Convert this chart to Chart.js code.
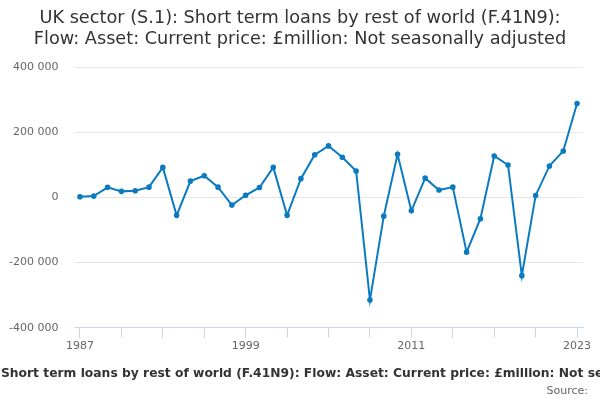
<!DOCTYPE html>
<html>
<head>
<meta charset="utf-8">
<script src="https://cdn.jsdelivr.net/npm/chart.js@4/dist/chart.umd.min.js"></script>
<style>
  html, body { margin: 0; padding: 0; background: #fff; }
  #wrap { width: 600px; height: 400px; }
</style>
</head>
<body>
<div id="wrap"><canvas id="chart"></canvas></div>
<script>
var anos = [1987, 1988, 1989, 1990, 1991, 1992, 1993, 1994, 1995, 1996, 1997, 1998,
            1999, 2000, 2001, 2002, 2003, 2004, 2005, 2006, 2007, 2008, 2009, 2010,
            2011, 2012, 2013, 2014, 2015, 2016, 2017, 2018, 2019, 2020, 2021, 2022, 2023];
var valores = [2000, 4000, 31000, 18500, 20500, 31500, 92000, -55000, 50000, 66500, 31500, -23500,
               6500, 30500, 92000, -55000, 57500, 131000, 158000, 123000, 81000, -315000, -57500, 132000,
               -41000, 59000, 22500, 31500, -168000, -65500, 127000, 99500, -240000, 6000, 96500, 142500, 288000];
var rotulosAnos = [1987, 1999, 2011, 2023];
var ticksY = [-400000, -200000, 0, 200000, 400000];

var titulo = ['UK sector (S.1): Short term loans by rest of world (F.41N9):',
              'Flow: Asset: Current price: £million: Not seasonally adjusted'];
var tituloEixo = 'Short term loans by rest of world (F.41N9): Flow: Asset: Current price: £million: Not seasonally adjusted';

var pontos = anos.map(function (a, i) { return { x: a, y: valores[i] }; });
var fonte = 'DejaVu Sans, sans-serif';

function formata(v) {
  var s = Math.abs(v).toString().replace(/\B(?=(\d{3})+(?!\d))/g, ' ');
  return (v < 0 ? '-' : '') + s;
}

// titulo, titulo do eixo e fonte desenhados a mao
var textos = {
  id: 'textos',
  afterDraw: function (chart) {
    var ctx = chart.ctx;
    ctx.save();
    ctx.textBaseline = 'middle';
    ctx.fillStyle = '#333';
    ctx.font = '17.7px ' + fonte;
    ctx.textAlign = 'center';
    ctx.fillText(titulo[0], 300, 18);
    ctx.fillText(titulo[1], 300, 39);
    ctx.font = 'bold 12.3px ' + fonte;
    ctx.textAlign = 'left';
    ctx.fillText(tituloEixo, 1, 374);
    ctx.fillStyle = '#666';
    ctx.font = '11px ' + fonte;
    ctx.textAlign = 'right';
    ctx.fillText('Source:', 588, 391);
    ctx.restore();
  }
};

new Chart(document.getElementById('chart'), {
  type: 'line',
  data: {
    datasets: [{
      data: pontos,
      borderColor: '#0b7bc1',
      backgroundColor: '#0b7bc1',
      borderWidth: 2,
      pointRadius: 1.8,
      pointHoverRadius: 3,
      tension: 0
    }]
  },
  options: {
    responsive: true,
    maintainAspectRatio: false,
    animation: false,
    layout: { padding: { left: -7, right: 17, top: 67, bottom: 45 } },
    plugins: {
      legend: { display: false },
      tooltip: { enabled: false },
      title: { display: false }
    },
    scales: {
      x: {
        type: 'linear',
        min: 1986.6,
        max: 2023.43,
        afterBuildTicks: function (axis) {
          var t = [];
          for (var a = 1987; a <= 2023; a += 3) t.push({ value: a });
          axis.ticks = t;
        },
        border: { color: '#ccd6eb' },
        grid: { drawOnChartArea: false, color: '#ccd6eb', tickLength: 10 },
        ticks: {
          autoSkip: false,
          maxRotation: 0,
          color: '#666',
          font: { family: fonte, size: 11 },
          padding: 2,
          callback: function (v) { return rotulosAnos.indexOf(v) >= 0 ? String(v) : ''; }
        }
      },
      y: {
        min: -400000,
        max: 400000,
        afterBuildTicks: function (axis) {
          axis.ticks = ticksY.map(function (v) { return { value: v }; });
        },
        border: { display: false },
        grid: { color: '#e6e6e6', drawTicks: false },
        ticks: {
          color: '#666',
          font: { family: fonte, size: 11 },
          padding: 16,
          callback: function (v) { return formata(v); }
        }
      }
    }
  },
  plugins: [textos]
});
</script>
</body>
</html>
